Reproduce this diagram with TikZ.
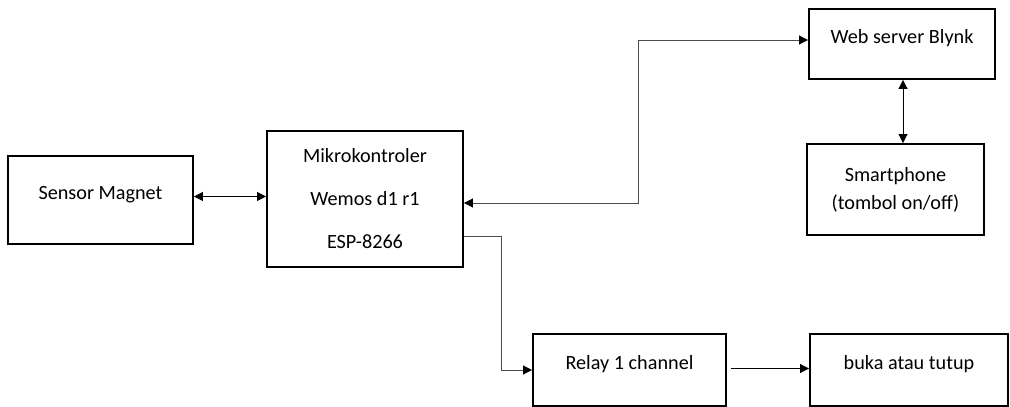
\documentclass[tikz,border=0pt]{standalone}
\usepackage{fontspec}
\setmainfont{Carlito}
\usetikzlibrary{arrows.meta}

\begin{document}
\begin{tikzpicture}[
      blok/.style={draw=black, line width=1.1pt, minimum height=1.44cm, align=center,
                   inner sep=2pt, font=\fontsize{11.5}{16}\selectfont},
      satu/.style={blok, text depth=8pt},
      garis/.style={line width=0.55pt, -{Triangle[length=1.8mm,width=1.8mm,color=black]}},
      dua/.style={garis, {Triangle[length=1.8mm,width=1.8mm,color=black]}-{Triangle[length=1.8mm,width=1.8mm,color=black]}},
      siku/.style={draw=black!70}]
    \useasboundingbox (0,0) rectangle (20.2,8.14);
    \node[satu, minimum width=3.7cm, minimum height=1.76cm] (sensor) at (2.01,4.14) {Sensor Magnet};
    \node[blok, minimum width=3.92cm, minimum height=2.72cm] (mikro) at (7.30,4.16)
      {Mikrokontroler\\[8.5pt]Wemos d1 r1\\[8.5pt]ESP-8266};
    \node[satu, minimum width=3.72cm, minimum height=1.40cm] (web) at (18.04,7.26) {Web server Blynk};
    \node[blok, minimum width=3.54cm, minimum height=1.82cm] (hp) at (17.91,4.35)
      {Smartphone\\(tombol on/off)};
    \node[satu, minimum width=3.86cm] (relay) at (12.59,0.74) {Relay 1 channel};
    \node[satu, minimum width=3.96cm] (buka) at (18.18,0.74) {buka atau tutup};

    % penghubung
    \draw[dua] ([yshift=0.07cm]sensor.east) -- ([yshift=0.07cm]sensor.east -| mikro.west);
    \draw[dua, siku] ([yshift=-0.08cm]mikro.east) -- ++(3.5,0) |- ([yshift=0.08cm]web.west);
    \draw[dua] ([xshift=0.02cm]web.south) -- ([xshift=0.02cm]web.south |- hp.north);
    \draw[garis, siku] ([yshift=-0.74cm]mikro.east) -- ++(0.76,0) |- (relay.west);
    \draw[garis] ([xshift=0.08cm,yshift=0.03cm]relay.east) -- ([yshift=0.03cm]buka.west);
  \end{tikzpicture}
\end{document}
